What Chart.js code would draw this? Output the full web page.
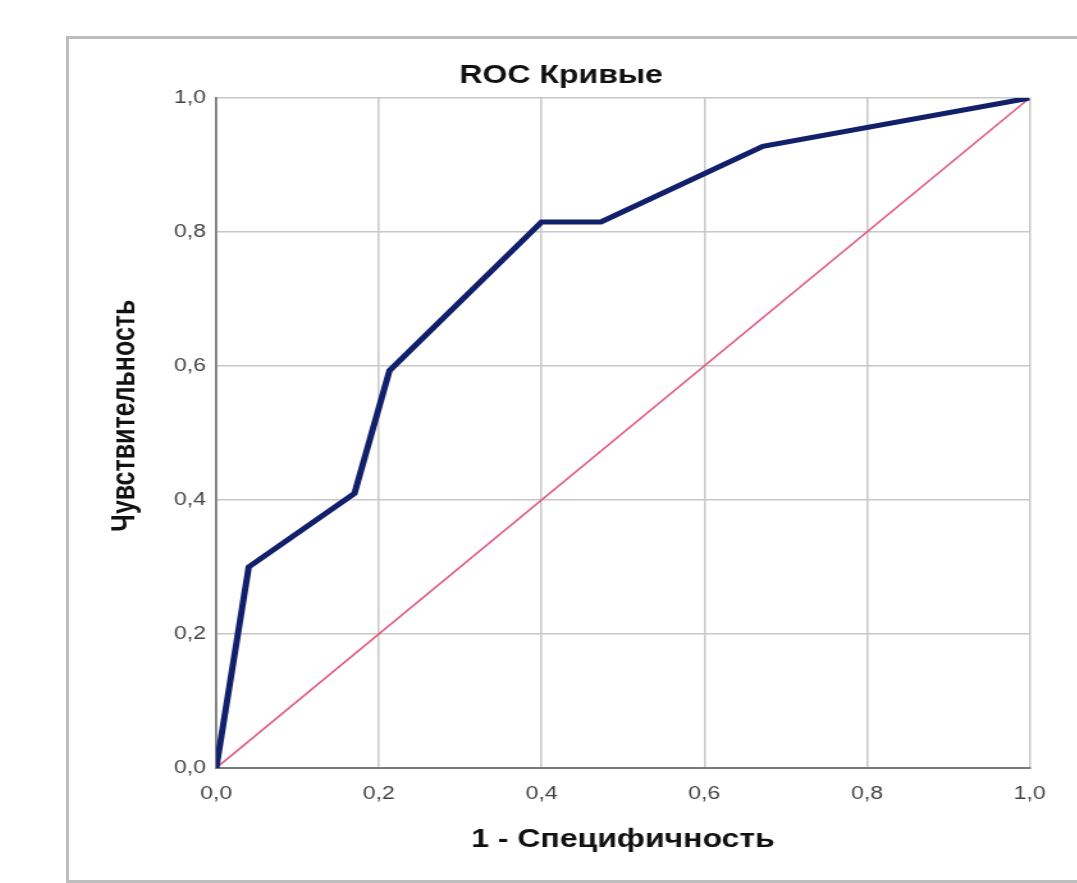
<!DOCTYPE html>
<html lang="ru">
<head>
<meta charset="utf-8">
<title>ROC Кривые</title>
<script src="https://cdn.jsdelivr.net/npm/chart.js@4.4.1/dist/chart.umd.min.js"></script>
<style>
    html, body {
        margin: 0;
        padding: 0;
        background: #ffffff;
        overflow: hidden;
        width: 1077px;
        height: 883px;
    }
    #frame {
        position: absolute;
        left: 66px;
        top: 36px;
        width: 1100px;
        height: 841px;
        border: 3px solid #bdbdbd;
        border-right: none;
    }
    /* the source picture is stretched sideways, so the canvas is too */
    #roc {
        position: absolute;
        left: 69px;
        top: 38px;
        transform: scaleX(1.28);
        transform-origin: 0 0;
    }
</style>
</head>
<body>
<div id="frame"></div>
<canvas id="roc" width="778" height="842"></canvas>

<script>
// 1 - specificity and sensitivity
const fpr = [0, 0.04, 0.17, 0.213, 0.40, 0.473, 0.672, 1.0];
const tpr = [0, 0.30, 0.41, 0.593, 0.815, 0.815, 0.928, 1.0];

// reference diagonal
const ref_x = [0, 1];
const ref_y = [0, 1];

const tick_values = [0, 0.2, 0.4, 0.6, 0.8, 1.0];

function to_points(xs, ys) {
    let points = [];
    for (let i = 0; i < xs.length; i++) {
        points.push({ x: xs[i], y: ys[i] });
    }
    return points;
}

function comma(value) {
    return value.toFixed(1).replace('.', ',');
}

const roc = document.getElementById('roc');

new Chart(roc, {
    type: 'scatter',
    data: {
        datasets: [{
            label: 'ROC',
            data: to_points(fpr, tpr),
            showLine: true,
            borderColor: '#12206c',
            borderWidth: 5,
            pointRadius: 0,
            borderJoinStyle: 'miter',
            order: 1,
        }, {
            label: 'Опорная линия',
            data: to_points(ref_x, ref_y),
            showLine: true,
            borderColor: '#e05a7a',
            borderWidth: 1.6,
            pointRadius: 0,
            order: 2,
        }]
    },
    options: {
        responsive: false,
        animation: false,
        events: [],
        layout: {
            padding: { top: 0, right: 27, bottom: 0, left: 18 }
        },
        plugins: {
            legend: { display: false },
            tooltip: { enabled: false },
            title: {
                display: true,
                text: 'ROC Кривые',
                color: '#111111',
                font: { family: '"Liberation Sans", Arial, sans-serif', size: 25, weight: 'bold' },
                padding: { top: 23, bottom: 7 }
            }
        },
        scales: {
            x: {
                type: 'linear',
                min: 0,
                max: 1,
                afterBuildTicks: (scale) => {
                    scale.ticks = tick_values.map(v => ({ value: v }));
                },
                afterFit: (scale) => {
                    scale.height = 112;
                },
                ticks: {
                    callback: comma,
                    color: '#444444',
                    padding: 15,
                    maxRotation: 0,
                    font: { family: '"Liberation Sans", Arial, sans-serif', size: 18 }
                },
                grid: {
                    color: '#c8c8c8',
                    lineWidth: 1.5,
                    drawTicks: false
                },
                border: {
                    color: '#7a7a7a',
                    width: 2
                },
                title: {
                    display: true,
                    text: '1 - Специфичность',
                    color: '#111111',
                    font: { family: '"Liberation Sans", Arial, sans-serif', size: 25, weight: 'bold' },
                    padding: { top: 4, bottom: 25 }
                }
            },
            y: {
                type: 'linear',
                min: 0,
                max: 1,
                afterBuildTicks: (scale) => {
                    scale.ticks = tick_values.map(v => ({ value: v }));
                },
                afterFit: (scale) => {
                    scale.width = 97;
                },
                ticks: {
                    callback: comma,
                    color: '#444444',
                    padding: 8,
                    font: { family: '"Liberation Sans", Arial, sans-serif', size: 18 }
                },
                grid: {
                    color: '#c8c8c8',
                    lineWidth: 1.5,
                    drawTicks: false
                },
                border: {
                    color: '#7a7a7a',
                    width: 1.8
                },
                title: {
                    display: true,
                    // leading spaces lift the label a little above the middle, as in the source
                    text: '     Чувствительность',
                    color: '#111111',
                    font: { family: '"Liberation Sans", Arial, sans-serif', size: 25, weight: 'bold' },
                    padding: { top: 11, bottom: 4 }
                }
            }
        }
    }
});
</script>
</body>
</html>
